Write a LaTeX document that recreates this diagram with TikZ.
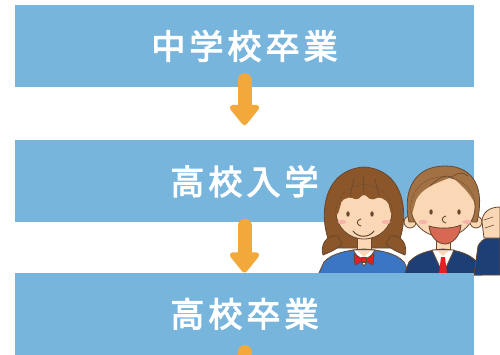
\documentclass[tikz,border=0pt]{standalone}
\usepackage{fontspec}
\newfontfamily\jpfont{Noto Sans CJK JP}[LetterSpace=12,FakeBold=3]
\usetikzlibrary{arrows.meta,positioning}
\definecolor{barblue}{RGB}{120,181,221}
\definecolor{arroworange}{RGB}{242,168,58}
\definecolor{skin}{RGB}{250,216,182}
\definecolor{hairgirl}{RGB}{138,86,42}
\definecolor{hairboy}{RGB}{163,114,68}
\definecolor{lineb}{RGB}{105,70,45}
\definecolor{cheek}{RGB}{245,172,168}
\definecolor{uniblue}{RGB}{58,118,196}
\definecolor{navy}{RGB}{30,62,118}
\definecolor{mouthred}{RGB}{214,104,84}
\definecolor{bowred}{RGB}{226,32,36}
\tikzset{
  stepbar/.style = {fill=barblue,minimum width=459pt,minimum height=82pt,inner sep=0pt,
                    text=white,font=\jpfont\fontsize{34}{40}\selectfont},
  flowarr/.style = {arroworange,line width=14pt,line cap=round,
                    -{Triangle[length=22pt,width=34pt,round]}},
  outl/.style    = {draw=lineb,line width=0.8pt,line join=round},
  strand/.style  = {lineb,line width=0.6pt,line cap=round}
}

\begin{document}
\begin{tikzpicture}[x=1pt,y=-1pt]
  \useasboundingbox (0,0) rectangle (500,355);
  \fill[white] (0,0) rectangle (500,355);

  % the first two steps
  \node[stepbar] (chugaku) at (244.5,46) {中学校卒業};
  \node[stepbar,below=53pt of chugaku] (nyugaku) {高校入学};
  \draw[flowarr] ([yshift=7pt]chugaku.south) -- ([yshift=15pt]nyugaku.north);

  % girl
  \path[outl,fill=hairgirl] (332,248) .. controls (318,222) and (320,170) .. (364,167)
    .. controls (408,170) and (410,222) .. (396,248) -- cycle;
  \path[outl,fill=hairgirl] (338,236) .. controls (326,234) and (320,246) .. (323,255)
    .. controls (330,252) and (336,250) .. (342,244) -- cycle;
  \path[outl,fill=hairgirl] (390,236) .. controls (402,234) and (408,246) .. (405,255)
    .. controls (398,252) and (392,250) .. (386,244) -- cycle;
  \path[outl,fill=skin] (357,232) rectangle (371,254);
  \path[outl,fill=uniblue] (318,275) -- (324,262) .. controls (332,253) and (348,250) .. (364,249)
    .. controls (380,250) and (396,253) .. (404,262) -- (410,275) -- cycle;
  \path[outl,fill=white] (353,250) -- (364,266) -- (375,250) -- cycle;
  \path[fill=skin] (357,250.5) -- (364,257) -- (371,250.5) -- cycle;
  \path[outl,fill=bowred] (364,260) -- (354,254) -- (355,265) -- cycle;
  \path[outl,fill=bowred] (364,260) -- (374,254) -- (373,265) -- cycle;
  \path[outl,fill=bowred] (361.5,257.5) rectangle (366.5,262.5);
  \path[outl,fill=skin] (364,212) ellipse [x radius=28,y radius=27];
  \begin{scope}
    \clip (364,212) ellipse [x radius=28,y radius=27];
    \fill[hairgirl,rounded corners=2pt] (330,160) -- (330,222) -- (338,214) -- (342,200)
      -- (350,197) -- (357,200) -- (364,194) -- (371,200) -- (380,197) -- (388,202)
      -- (391,214) -- (398,222) -- (398,160) -- cycle;
  \end{scope}
  \draw[strand] (350,196) -- (354,178);
  \draw[strand] (364,193) -- (363,176);
  \draw[strand] (379,196) -- (375,179);
  \fill[lineb] (348,214) ellipse [x radius=1.7,y radius=2.7];
  \fill[lineb] (372,214) ellipse [x radius=1.7,y radius=2.7];
  \draw[lineb,line width=0.9pt] (361,219) .. controls (356,220) and (356,225) .. (361,226);
  \draw[lineb,line width=1pt,line cap=round] (353,231) .. controls (358,238) and (369,238) .. (374,231);
  \fill[cheek,opacity=.8] (342,222) ellipse [x radius=4.5,y radius=2.2];
  \fill[cheek,opacity=.8] (386,222) ellipse [x radius=4.5,y radius=2.2];

  % boy
  \path[outl,fill=skin] (410,222) circle [radius=6];
  \path[outl,fill=skin] (476,222) circle [radius=6];
  \path[outl,fill=hairboy] (409,222) .. controls (402,190) and (415,166) .. (445,166)
    .. controls (475,166) and (485,190) .. (477,222) -- cycle;
  \path[outl,fill=skin] (436,232) rectangle (450,254);
  \path[outl,fill=navy] (404,275) -- (409,262) .. controls (417,253) and (430,250) .. (443,249)
    .. controls (456,250) and (469,253) .. (477,262) -- (482,275) -- cycle;
  \path[outl,fill=white] (432,250) -- (443,274) -- (454,250) -- cycle;
  \path[fill=skin] (437,250.5) -- (443,256) -- (449,250.5) -- cycle;
  \path[fill=bowred] (441,257) -- (445,257) -- (447,274) -- (439,274) -- cycle;
  \path[outl,fill=navy] (474,275) -- (478,246) .. controls (482,238) and (490,236) .. (500,236)
    -- (500,275) -- cycle;
  \path[outl,fill=skin] (484,238) -- (482,222) .. controls (482,212) and (490,207) .. (500,207)
    -- (500,238) -- cycle;
  \draw[strand] (484,220) -- (493,217);
  \draw[strand] (485,228) -- (494,225);
  \path[outl,fill=skin] (443,207) ellipse [x radius=32,y radius=30];
  \begin{scope}
    \clip (443,207) ellipse [x radius=32,y radius=30];
    \fill[hairboy] (405,150) -- (405,225) -- (412,214) -- (416,200)
      .. controls (422,188) and (436,183) .. (452,177)
      .. controls (460,184) and (470,192) .. (476,206) -- (482,225) -- (482,150) -- cycle;
  \end{scope}
  \draw[strand] (430,186) .. controls (438,178) and (446,174) .. (452,177);
  \draw[strand] (452,177) .. controls (458,172) and (464,172) .. (468,176);
  \fill[lineb] (431,212) ellipse [x radius=1.7,y radius=2.7];
  \fill[lineb] (459,212) ellipse [x radius=1.7,y radius=2.7];
  \draw[lineb,line width=0.9pt] (446,216) .. controls (441,217) and (441,222) .. (446,223);
  \path[outl,fill=mouthred] (429,226) .. controls (438,229) and (452,229) .. (461,225)
    .. controls (460,238) and (451,244) .. (445,244) .. controls (437,244) and (430,236) .. cycle;
  \fill[cheek,opacity=.8] (423,222) ellipse [x radius=4.5,y radius=2.2];
  \fill[cheek,opacity=.8] (467,222) ellipse [x radius=4.5,y radius=2.2];

  % last step over the picture
  \node[stepbar,below=50pt of nyugaku] (sotsugyo) {高校卒業};
  \coordinate[below=50pt of sotsugyo.south] (next);
  \draw[flowarr] ([yshift=-3pt]nyugaku.south) -- (sotsugyo.north);
  \draw[flowarr] ([yshift=3pt]sotsugyo.south) -- (next);
\end{tikzpicture}
\end{document}
